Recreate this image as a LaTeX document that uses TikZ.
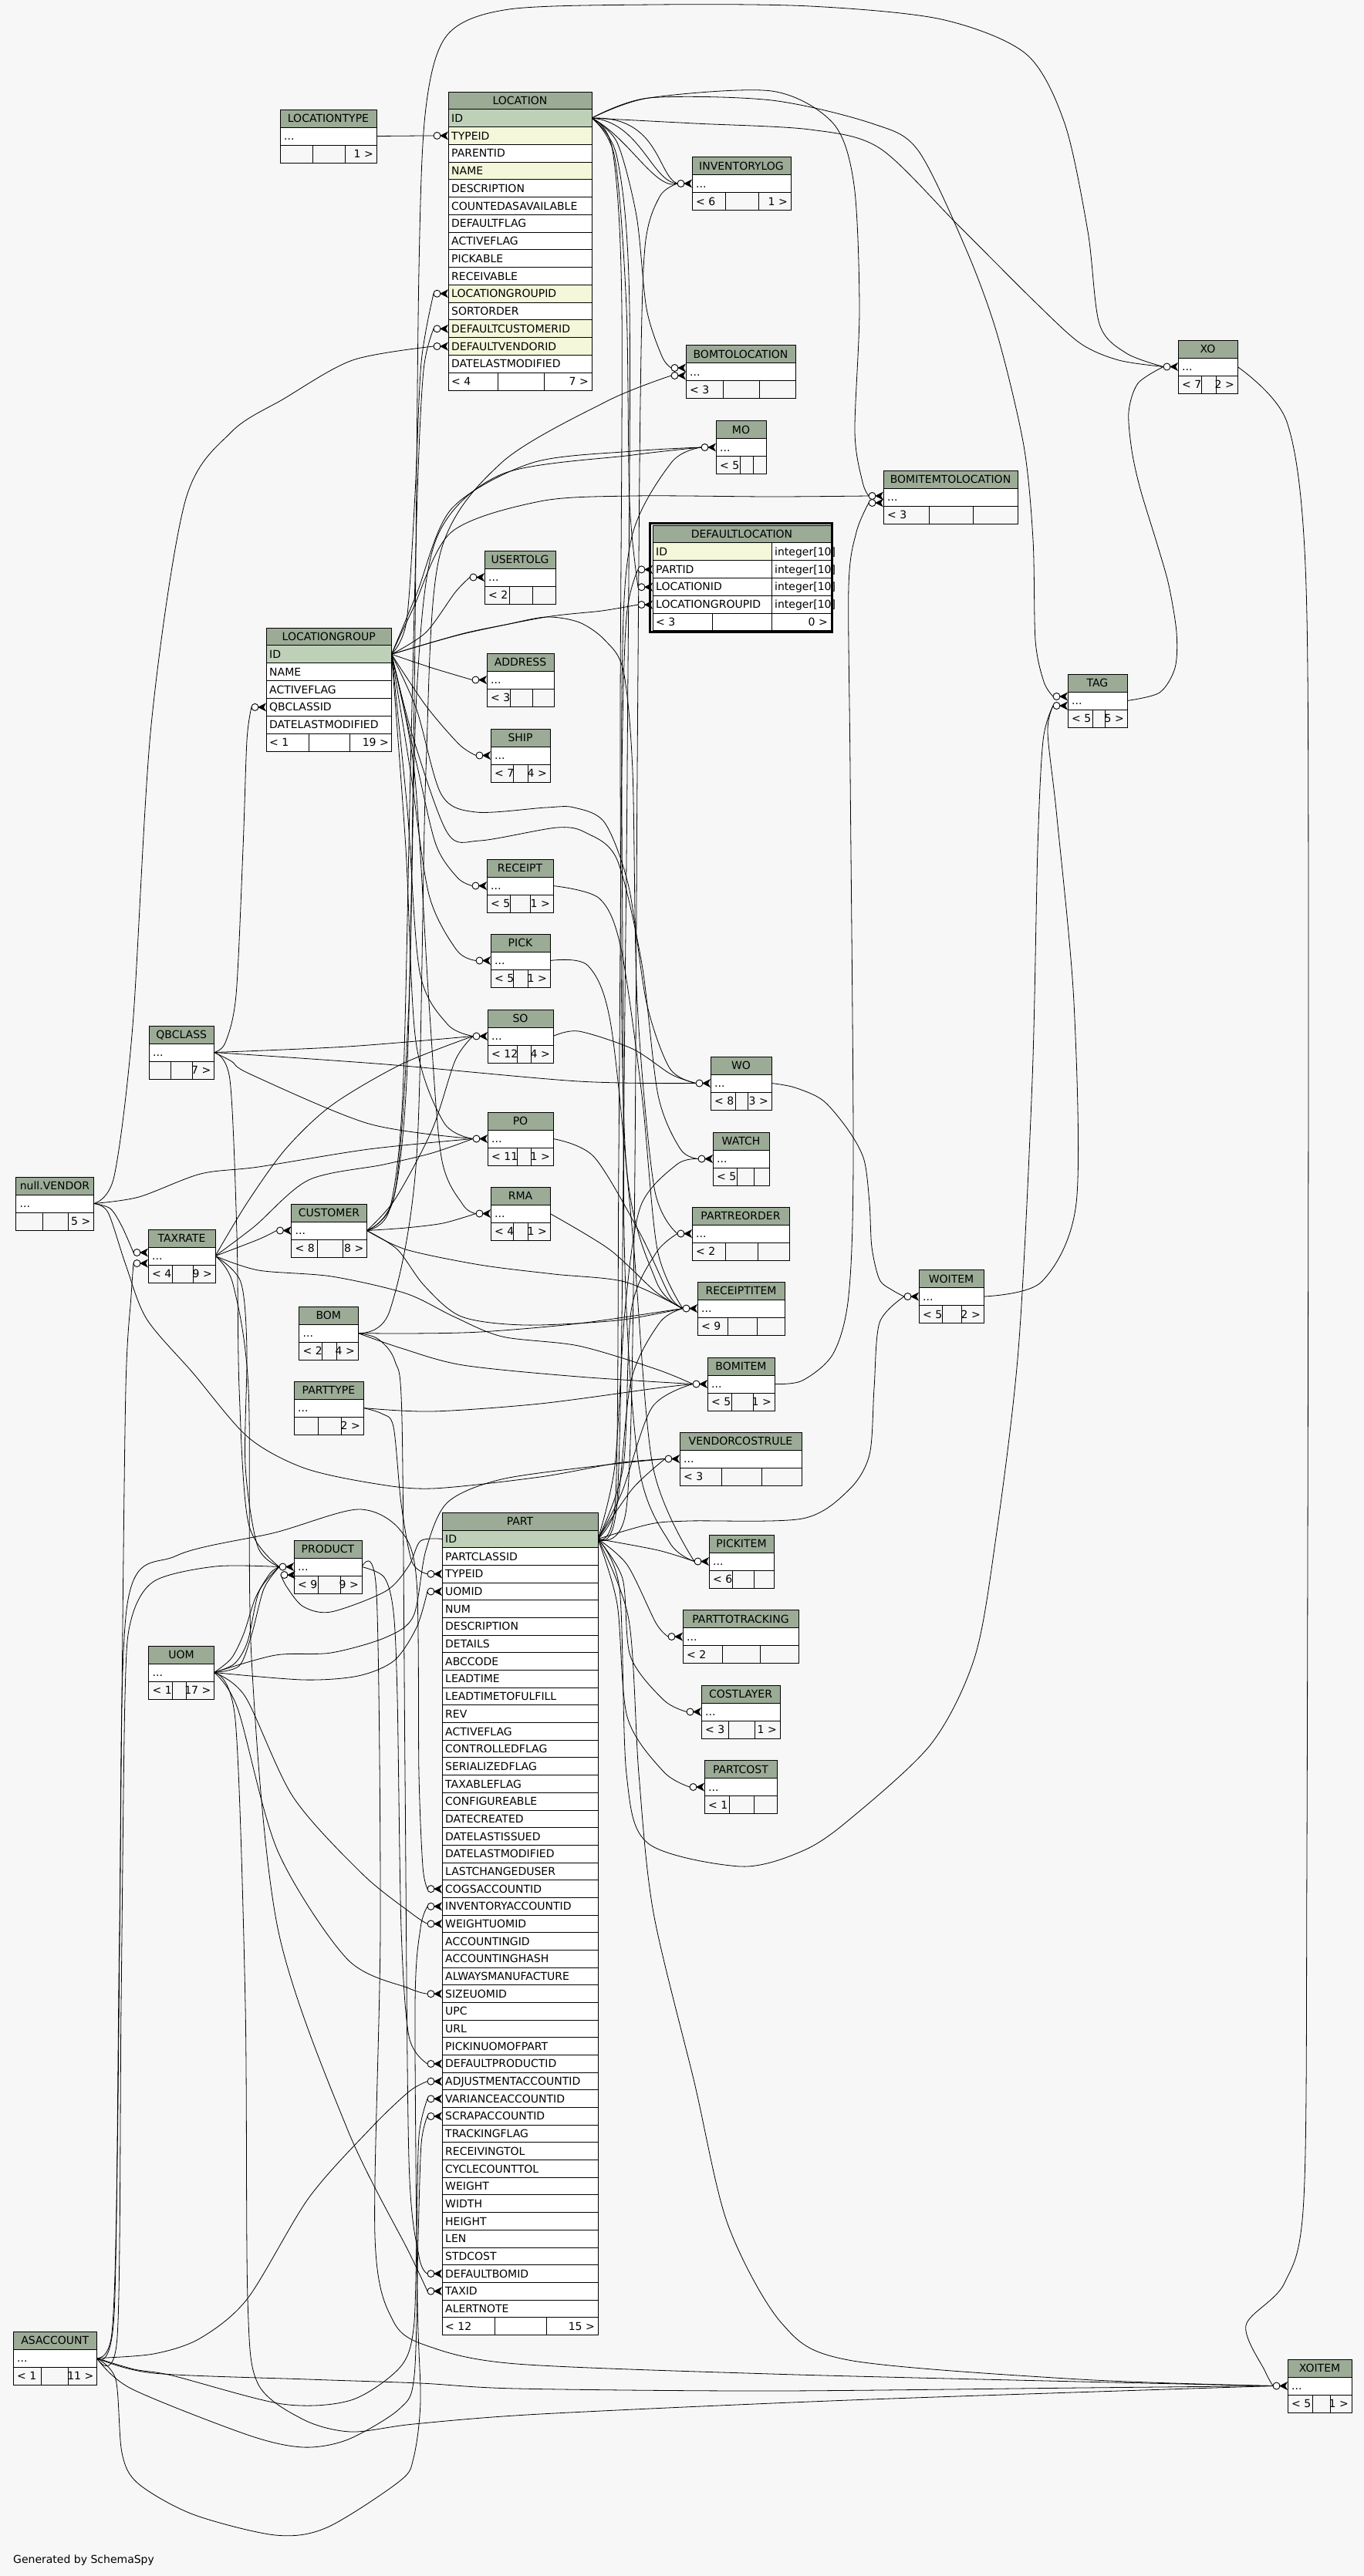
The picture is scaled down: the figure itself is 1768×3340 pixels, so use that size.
\documentclass[tikz,border=0pt]{standalone}
\usepackage{fontspec}
\setmainfont{DejaVu Sans}
\pgfdeclarelayer{back}
\pgfdeclarelayer{edges}
\pgfsetlayers{back,edges,main}
\definecolor{bg}{HTML}{F7F7F7}
\definecolor{hdr}{HTML}{9BAB96}
\definecolor{pk}{HTML}{BED1B8}
\definecolor{ix}{HTML}{F4F7DA}
\tikzset{
  tb/.style={line width=0.95pt},
  rel/.style={line width=0.8pt},
  tt/.style={inner sep=0pt,font=\fontsize{14}{16}\selectfont,text height=10.2pt,text depth=0pt},
  crowo/.pic={
    \draw[line width=0.9pt,fill=white] (-14.5,0) circle[radius=4.5];
    \fill (-11,0) -- (0,-5.5) -- (-3,0) -- (0,5.5) -- cycle;
  }
}
% compact table: name, x, y, w, title, div1, div2, left, right
\newcommand\ctab[9]{%
  \path[fill=hdr] (#2,#3) rectangle ++(#4,23);
  \path[fill=white] (#2,#3+23) rectangle ++(#4,23);
  \draw[tb] (#2,#3) rectangle ++(#4,69);
  \draw[tb] (#2,#3+23) -- ++(#4,0) (#2,#3+46) -- ++(#4,0) (#6,#3+46) -- (#6,#3+69) (#7,#3+46) -- (#7,#3+69);
  \node[tt] (#1) at (#2+#4/2,#3+11.5) {#5};
  \node[tt,anchor=west] at (#2+5,#3+34.5) {...};
  \node[tt,anchor=west] at (#2+5,#3+57.5) {#8};
  \node[tt,anchor=east] at (#2+#4-4,#3+57.5) {#9};
  \coordinate (#1-in) at (#2,#3+34.5);
  \coordinate (#1-out) at (#2+#4,#3+34.5);
  \coordinate (#1-e) at (#2-19,#3+34.5);
}
\begin{document}
\begin{tikzpicture}[x=1pt,y=-1pt]
\useasboundingbox (0,0) rectangle (1768,3340);
\begin{pgfonlayer}{back}
\fill[bg] (0,0) rectangle (1768,3340);
\end{pgfonlayer}

% ---------------- compact tables ----------------
\ctab{LOCATIONTYPE}{363}{142}{125}{LOCATIONTYPE}{405}{447}{}{1 >}
\ctab{INVENTORYLOG}{897}{203.5}{128}{INVENTORYLOG}{940}{983}{< 6}{1 >}
\ctab{BOMTOLOCATION}{889}{447.5}{142}{BOMTOLOCATION}{937}{984}{< 3}{}
\ctab{MO}{928}{545.5}{65}{MO}{959}{976}{< 5}{}
\ctab{BOMITEMTOLOCATION}{1145}{610}{174}{BOMITEMTOLOCATION}{1204}{1261}{< 3}{}
\ctab{XO}{1527}{441}{77}{XO}{1557}{1576}{< 7}{2 >}
\ctab{TAG}{1384}{874}{77}{TAG}{1416}{1432}{< 5}{5 >}
\ctab{USERTOLG}{628}{714}{92}{USERTOLG}{660}{690}{< 2}{}
\ctab{ADDRESS}{631}{847}{87}{ADDRESS}{661}{690}{< 3}{}
\ctab{SHIP}{636}{945}{77}{SHIP}{665}{684}{< 7}{4 >}
\ctab{RECEIPT}{631}{1114}{86}{RECEIPT}{661}{687}{< 5}{1 >}
\ctab{PICK}{636}{1211}{77}{PICK}{665}{684}{< 5}{1 >}
\ctab{SO}{632}{1309}{85}{SO}{670}{688}{< 12}{4 >}
\ctab{QBCLASS}{193}{1330}{84.5}{QBCLASS}{221.5}{249}{}{7 >}
\ctab{WO}{921}{1370}{79}{WO}{953}{969}{< 8}{3 >}
\ctab{PO}{632}{1442}{85}{PO}{670}{688}{< 11}{1 >}
\ctab{WATCH}{924}{1468}{73}{WATCH}{955}{977}{< 5}{}
\ctab{VENDOR}{20.5}{1526}{101}{null.VENDOR}{55.5}{88.5}{}{5 >}
\ctab{RMA}{636}{1539}{77}{RMA}{665.5}{684}{< 4}{1 >}
\ctab{CUSTOMER}{377.5}{1561}{98}{CUSTOMER}{411}{444}{< 8}{8 >}
\ctab{PARTREORDER}{897}{1565}{126}{PARTREORDER}{940}{982}{< 2}{}
\ctab{TAXRATE}{192}{1594}{87}{TAXRATE}{223}{250}{< 4}{9 >}
\ctab{RECEIPTITEM}{904}{1662}{113}{RECEIPTITEM}{943}{981}{< 9}{}
\ctab{WOITEM}{1191}{1646.5}{84}{WOITEM}{1221}{1246}{< 5}{2 >}
\ctab{BOM}{387.5}{1694}{76.5}{BOM}{417}{436}{< 2}{4 >}
\ctab{BOMITEM}{917}{1760}{87}{BOMITEM}{948}{976}{< 5}{1 >}
\ctab{PARTTYPE}{381}{1791}{90}{PARTTYPE}{412.5}{442}{}{2 >}
\ctab{VENDORCOSTRULE}{881}{1857}{158}{VENDORCOSTRULE}{935}{987}{< 3}{}
\ctab{PICKITEM}{919}{1990}{84}{PICKITEM}{949}{977}{< 6}{}
\ctab{PRODUCT}{381}{1997}{88}{PRODUCT}{412.5}{441}{< 9}{9 >}
\ctab{PARTTOTRACKING}{885}{2087.5}{150}{PARTTOTRACKING}{936}{985}{< 2}{}
\ctab{UOM}{192.5}{2134}{85}{UOM}{223}{241}{< 1}{17 >}
\ctab{COSTLAYER}{909}{2185}{102}{COSTLAYER}{944}{978}{< 3}{1 >}
\ctab{PARTCOST}{913}{2282.5}{94}{PARTCOST}{945}{977}{< 1}{}
\ctab{ASACCOUNT}{17}{3023}{108.5}{ASACCOUNT}{53}{88}{< 1}{11 >}
\ctab{XOITEM}{1669}{3059}{83}{XOITEM}{1701}{1724}{< 5}{1 >}

% ---------------- LOCATION ----------------
\path[fill=hdr] (581,119) rectangle (767,141.76);
\node[tt] (LOCATION) at (674,130.38) {LOCATION};
\foreach \rn/\rc [count=\i] in {ID/pk,TYPEID/ix,PARENTID/white,NAME/ix,DESCRIPTION/white,COUNTEDASAVAILABLE/white,DEFAULTFLAG/white,ACTIVEFLAG/white,PICKABLE/white,RECEIVABLE/white,LOCATIONGROUPID/ix,SORTORDER/white,DEFAULTCUSTOMERID/ix,DEFAULTVENDORID/ix,DATELASTMODIFIED/white}{
  \path[fill=\rc] (581,{119+22.76*\i}) rectangle (767,{119+22.76*(\i+1)});
  \draw[tb] (581,{119+22.76*\i}) -- (767,{119+22.76*\i});
  \node[tt,anchor=west] at (585,{119+22.76*(\i+0.5)}) {\rn};
}
\path[fill=white] (581,483.16) rectangle (767,506);
\draw[tb] (581,483.16) -- (767,483.16) (645,483.16) -- (645,506) (705,483.16) -- (705,506);
\node[tt,anchor=west] at (585,494.6) {< 4};
\node[tt,anchor=east] at (763,494.6) {7 >};
\draw[tb] (581,119) rectangle (767,506);

% ---------------- LOCATIONGROUP ----------------
\path[fill=hdr] (345,814) rectangle (507.5,836.86);
\node[tt] (LOCATIONGROUP) at (426.25,825.4) {LOCATIONGROUP};
\foreach \rn/\rc [count=\i] in {ID/pk,NAME/white,ACTIVEFLAG/white,QBCLASSID/white,DATELASTMODIFIED/white}{
  \path[fill=\rc] (345,{814+22.86*\i}) rectangle (507.5,{814+22.86*(\i+1)});
  \draw[tb] (345,{814+22.86*\i}) -- (507.5,{814+22.86*\i});
  \node[tt,anchor=west] at (349,{814+22.86*(\i+0.5)}) {\rn};
}
\path[fill=white] (345,951.16) rectangle (507.5,974);
\draw[tb] (345,951.16) -- (507.5,951.16) (400,951.16) -- (400,974) (453,951.16) -- (453,974);
\node[tt,anchor=west] at (349,962.6) {< 1};
\node[tt,anchor=east] at (504,962.6) {19 >};
\draw[tb] (345,814) rectangle (507.5,974);

% ---------------- DEFAULTLOCATION ----------------
\path[fill=hdr] (846,681) rectangle (1077,703.8);
\node[tt] (DEFAULTLOCATION) at (961.5,692.4) {DEFAULTLOCATION};
\foreach \rn/\rc [count=\i] in {ID/ix,PARTID/white,LOCATIONID/white,LOCATIONGROUPID/white}{
  \path[fill=\rc] (846,{681+22.8*\i}) rectangle (1000,{681+22.8*(\i+1)});
  \path[fill=white] (1000,{681+22.8*\i}) rectangle (1077,{681+22.8*(\i+1)});
  \draw[tb] (846,{681+22.8*\i}) -- (1077,{681+22.8*\i});
  \node[tt,anchor=west] at (850,{681+22.8*(\i+0.5)}) {\rn};
  \node[tt,anchor=west] at (1004,{681+22.8*(\i+0.5)}) {integer[10]};
}
\path[fill=white] (846,795) rectangle (1077,817.8);
\draw[tb] (846,795) -- (1077,795) (1000,703.8) -- (1000,817.8) (923,795) -- (923,817.8);
\node[tt,anchor=west] at (850,806.4) {< 3};
\node[tt,anchor=east] at (1073,806.4) {0 >};
\draw[tb] (846,681) rectangle (1077,817.8);
\draw[line width=3pt] (842.6,678.4) rectangle (1078.6,819.8);

% ---------------- PART ----------------
\path[fill=hdr] (573,1961.4) rectangle (775,1984.08);
\node[tt] (PART) at (674,1972.7) {PART};
\foreach \rn/\rc [count=\i] in {ID/pk,PARTCLASSID/white,TYPEID/white,UOMID/white,NUM/white,DESCRIPTION/white,DETAILS/white,ABCCODE/white,LEADTIME/white,LEADTIMETOFULFILL/white,REV/white,ACTIVEFLAG/white,CONTROLLEDFLAG/white,SERIALIZEDFLAG/white,TAXABLEFLAG/white,CONFIGUREABLE/white,DATECREATED/white,DATELASTISSUED/white,DATELASTMODIFIED/white,LASTCHANGEDUSER/white,COGSACCOUNTID/white,INVENTORYACCOUNTID/white,WEIGHTUOMID/white,ACCOUNTINGID/white,ACCOUNTINGHASH/white,ALWAYSMANUFACTURE/white,SIZEUOMID/white,UPC/white,URL/white,PICKINUOMOFPART/white,DEFAULTPRODUCTID/white,ADJUSTMENTACCOUNTID/white,VARIANCEACCOUNTID/white,SCRAPACCOUNTID/white,TRACKINGFLAG/white,RECEIVINGTOL/white,CYCLECOUNTTOL/white,WEIGHT/white,WIDTH/white,HEIGHT/white,LEN/white,STDCOST/white,DEFAULTBOMID/white,TAXID/white,ALERTNOTE/white}{
  \path[fill=\rc] (573,{1961.4+22.68*\i}) rectangle (775,{1961.4+22.68*(\i+1)});
  \draw[tb] (573,{1961.4+22.68*\i}) -- (775,{1961.4+22.68*\i});
  \node[tt,anchor=west] at (577,{1961.4+22.68*(\i+0.5)}) {\rn};
}
\path[fill=white] (573,3004.68) rectangle (775,3027.36);
\draw[tb] (573,3004.68) -- (775,3004.68) (641,3004.68) -- (641,3027.36) (708,3004.68) -- (708,3027.36);
\node[tt,anchor=west] at (577,3016) {< 12};
\node[tt,anchor=east] at (771,3016) {15 >};
\draw[tb] (573,1961.4) rectangle (775,3027.36);

\node[tt,anchor=west] (gen) at (17,3318) {Generated by SchemaSpy};

% ---------------- anchor coordinates ----------------
\coordinate (L-id) at (767,153.1);
\coordinate (L-type-e) at (562,175.9);
\coordinate (L-lg-e) at (562,380.7);
\coordinate (L-cust-e) at (562,426.3);
\coordinate (L-vend-e) at (562,449);
\coordinate (LG-id) at (507.5,848.3);
\coordinate (LG-qb-e) at (326,916.9);
\coordinate (P-id) at (775,1995.4);
\coordinate (P-idw) at (573,1995.4);
\coordinate (P-type-e) at (554,2040.8);
\coordinate (P-uom-e) at (554,2063.5);
\coordinate (P-cogs-e) at (554,2449.1);
\coordinate (P-inv-e) at (554,2471.8);
\coordinate (P-wuom-e) at (554,2494.4);
\coordinate (P-suom-e) at (554,2585.2);
\coordinate (P-dprod-e) at (554,2675.9);
\coordinate (P-adj-e) at (554,2698.6);
\coordinate (P-var-e) at (554,2721.3);
\coordinate (P-scrap-e) at (554,2743.9);
\coordinate (P-bom-e) at (554,2948.0);
\coordinate (P-tax-e) at (554,2970.7);
\coordinate (DL-part-e) at (827,738.4);
\coordinate (DL-loc-e) at (827,761.2);
\coordinate (DL-lg-e) at (827,784);
\coordinate (BTL-e1) at (870,477);
\coordinate (BTL-e2) at (870,487);
\coordinate (BITL-e1) at (1126,643);
\coordinate (BITL-e2) at (1126,652);
\coordinate (TAG-e1) at (1365,903);
\coordinate (TAG-e2) at (1365,915);
\coordinate (TAX-e1) at (173,1624);
\coordinate (TAX-e2) at (173,1638);
\coordinate (PROD-e2) at (364,2042);

% ---------------- relationships ----------------
\begin{pgfonlayer}{edges}
\draw[rel] (LOCATIONTYPE-out) -- (L-type-e);
\draw[rel] plot[smooth] coordinates {(LG-id) (527,805) (538,640) (546,470) (L-lg-e)};
\draw[rel] plot[smooth] coordinates {(CUSTOMER-out) (505,1568) (522,1420) (532,1000) (541,640) (549,480) (L-cust-e)};
\draw[rel] plot[smooth] coordinates {(VENDOR-out) (148,1525) (172,1330) (196,940) (240,650) (300,560) (368,517) (457,467) (L-vend-e)};
\draw[rel] (L-id) .. controls (830,158) and (845,236) .. (INVENTORYLOG-e);
\draw[rel] (L-id) .. controls (815,178) and (850,248) .. (INVENTORYLOG-e);
\draw[rel] (L-id) .. controls (855,150) and (852,228) .. (INVENTORYLOG-e);
\draw[rel] plot[smooth] coordinates {(P-id) (812,1955) (822,1600) (826,1000) (830,520) (836,320) (855,255) (INVENTORYLOG-e)};
\draw[rel] plot[smooth] coordinates {(L-id) (800,185) (825,280) (838,400) (858,462) (BTL-e1)};
\draw[rel] plot[smooth] coordinates {(BOM-out) (505,1700) (540,1500) (552,1000) (570,720) (650,600) (787,520) (BTL-e2)};
\draw[rel] plot[smooth] coordinates {(LG-id) (540,770) (585,660) (690,600) (820,585) (MO-e)};
\draw[rel] plot[smooth] coordinates {(CUSTOMER-out) (512,1545) (530,1300) (540,900) (565,700) (650,615) (820,590) (MO-e)};
\draw[rel] plot[smooth] coordinates {(P-id) (800,1945) (808,1500) (806,900) (818,700) (870,600) (MO-e)};
\draw[rel] plot[smooth] coordinates {(L-id) (841,127) (1000,118) (1080,160) (1107,240) (1114,400) (1108,560) (1118,625) (BITL-e1)};
\draw[rel] plot[smooth] coordinates {(LG-id) (535,790) (585,690) (700,650) (820,643) (1000,644) (BITL-e1)};
\draw[rel] plot[smooth] coordinates {(BOMITEM-out) (1040,1790) (1080,1755) (1100,1680) (1106,1500) (1102,1000) (1100,761) (1110,690) (BITL-e2)};
\draw[rel] plot[smooth] coordinates {(P-id) (798,1940) (802,1500) (806,1000) (812,800) (DL-part-e)};
\draw[rel] plot[smooth] coordinates {(L-id) (797,205) (812,400) (816,650) (DL-loc-e)};
\draw[rel] plot[smooth] coordinates {(LG-id) (600,822) (708,800) (780,792) (DL-lg-e)};
\draw[rel] plot[smooth] coordinates {(L-id) (900,160) (1050,168) (1140,192) (1240,290) (1340,390) (1400,445) (1450,467) (XO-e)};
\draw[rel] plot[smooth] coordinates {(CUSTOMER-out) (510,1555) (528,1380) (537,900) (543,350) (552,140) (580,45) (660,12) (850,6) (1050,8) (1220,25) (1330,70) (1380,160) (1410,300) (1425,420) (1460,458) (XO-e)};
\draw[rel] plot[smooth] coordinates {(TAG-out) (1503,898) (1523,866) (1525,820) (1515,759) (1500,706) (1478,634) (1467,584) (1463,534) (1475,497) (XO-e)};
\draw[rel] plot[smooth] coordinates {(L-id) (841,127) (1000,130) (1130,160) (1190,195) (1253,325) (1293,435) (1327,578) (1339,700) (1342,830) (1353,884) (TAG-e1)};
\draw[rel] plot[smooth] coordinates {(P-id) (803,2060) (812,2300) (840,2390) (960,2420) (1040,2400) (1100,2360) (1207,2261) (1263,2150) (1290,2000) (1320,1750) (1338,1400) (1345,1100) (1352,960) (TAG-e2)};
\draw[rel] plot[smooth] coordinates {(WOITEM-out) (1350,1662) (1395,1560) (1392,1300) (1370,1060) (1358,950) (TAG-e2)};
\draw[rel] plot[smooth] coordinates {(LG-id) (552,820) (590,768) (USERTOLG-e)};
\draw[rel] plot[smooth] coordinates {(LG-id) (560,866) (ADDRESS-e)};
\draw[rel] plot[smooth] coordinates {(LG-id) (552,915) (595,965) (SHIP-e)};
\draw[rel] plot[smooth] coordinates {(LG-id) (540,990) (565,1095) (593,1138) (RECEIPT-e)};
\draw[rel] plot[smooth] coordinates {(LG-id) (532,1000) (556,1160) (592,1232) (PICK-e)};
\draw[rel] plot[smooth] coordinates {(LG-id) (528,1050) (544,1260) (580,1328) (SO-e)};
\draw[rel] plot[smooth] coordinates {(LG-id) (526,1100) (539,1350) (575,1455) (PO-e)};
\draw[rel] plot[smooth] coordinates {(LG-id) (537,1000) (556,1300) (572,1500) (600,1562) (RMA-e)};
\draw[rel] plot[smooth] coordinates {(LG-id) (540,920) (572,1030) (617,1053) (708,1047) (744,1047) (784,1067) (815,1150) (838,1300) (868,1385) (WO-e)};
\draw[rel] plot[smooth] coordinates {(LG-id) (535,955) (580,1080) (622,1090) (722,1073) (760,1080) (800,1115) (832,1250) (853,1420) (882,1490) (WATCH-e)};
\draw[rel] plot[smooth] coordinates {(LG-id) (598,822) (655,810) (708,800) (751,807) (784,830) (808,870) (820,1000) (826,1300) (848,1540) (PARTREORDER-e)};
\draw[rel] plot[smooth] coordinates {(QBCLASS-out) (292,1352) (306,1290) (315,1100) (320,960) (LG-qb-e)};
\draw[rel] plot[smooth] coordinates {(QBCLASS-out) (450,1357) (SO-e)};
\draw[rel] plot[smooth] coordinates {(QBCLASS-out) (500,1380) (750,1402) (WO-e)};
\draw[rel] plot[smooth] coordinates {(QBCLASS-out) (300,1376) (325,1393) (478,1457) (PO-e)};
\draw[rel] plot[smooth] coordinates {(QBCLASS-out) (298,1400) (307,1600) (310,1800) (322,1975) (PRODUCT-e)};
\draw[rel] plot[smooth] coordinates {(VENDOR-out) (180,1552) (260,1522) (335,1513) (478,1490) (PO-e)};
\draw[rel] plot[smooth] coordinates {(VENDOR-out) (143,1567) (158,1590) (TAX-e1)};
\draw[rel] plot[smooth] coordinates {(VENDOR-out) (140,1572) (163,1640) (190,1710) (250,1780) (321,1863) (393,1903) (482,1923) (560,1930) (700,1915) (800,1897) (VENDORCOSTRULE-e)};
\draw[rel] plot[smooth] coordinates {(TAXRATE-out) (335,1607) (CUSTOMER-e)};
\draw[rel] plot[smooth] coordinates {(TAXRATE-out) (312,1662) (320,1750) (318,1900) (334,2005) (PRODUCT-e)};
\draw[rel] plot[smooth] coordinates {(TAXRATE-out) (320,1560) (370,1490) (430,1433) (520,1380) (SO-e)};
\draw[rel] plot[smooth] coordinates {(TAXRATE-out) (330,1590) (400,1530) (497,1510) (560,1495) (PO-e)};
\draw[rel] plot[smooth] coordinates {(TAXRATE-out) (335,1647) (430,1655) (526,1677) (588,1707) (651,1733) (750,1745) (850,1775) (BOMITEM-e)};
\draw[rel] plot[smooth] coordinates {(TAXRATE-out) (302,1665) (322,1800) (326,2150) (360,2500) (450,2760) (530,2920) (P-tax-e)};
\draw[rel] plot[smooth] coordinates {(CUSTOMER-out) (512,1555) (560,1465) (590,1375) (SO-e)};
\draw[rel] plot[smooth] coordinates {(CUSTOMER-out) (526,1592) (574,1586) (RMA-e)};
\draw[rel] plot[smooth] coordinates {(CUSTOMER-out) (526,1620) (622,1640) (718,1652) (810,1662) (RECEIPTITEM-e)};
\draw[rel] plot[smooth] coordinates {(CUSTOMER-out) (515,1620) (550,1667) (598,1707) (680,1718) (800,1712) (RECEIPTITEM-e)};
\draw[rel] plot[smooth] coordinates {(BOM-out) (526,1729) (622,1727) (750,1716) (RECEIPTITEM-e)};
\draw[rel] plot[smooth] coordinates {(BOM-out) (520,1748) (600,1770) (750,1785) (BOMITEM-e)};
\draw[rel] plot[smooth] coordinates {(BOM-out) (490,1736) (512,1765) (521,1840) (525,2300) (530,2800) (543,2925) (P-bom-e)};
\draw[rel] plot[smooth] coordinates {(PARTTYPE-out) (495,1833) (510,1850) (520,1950) (534,2025) (P-type-e)};
\draw[rel] plot[smooth] coordinates {(PARTTYPE-out) (560,1830) (700,1820) (850,1800) (BOMITEM-e)};
\draw[rel] plot[smooth] coordinates {(PRODUCT-out) (498,2045) (510,2090) (515,2200) (520,2500) (530,2640) (P-dprod-e)};
\draw[rel] plot[smooth] coordinates {(PRODUCT-out) (488,2065) (493,2500) (486,2900) (510,3010) (558,3043) (670,3065) (1000,3078) (1400,3088) (XOITEM-e)};
\draw[rel] plot[smooth] coordinates {(P-idw) (545,1998) (530,2030) (500,2063) (429,2090) (393,2083) (372,2058) (PROD-e2)};
\draw[rel] plot[smooth] coordinates {(UOM-out) (304,2157) (321,2128) (336,2063) (PRODUCT-e)};
\draw[rel] plot[smooth] coordinates {(UOM-out) (300,2150) (316,2118) (331,2072) (350,2040) (PRODUCT-e)};
\draw[rel] plot[smooth] coordinates {(UOM-out) (310,2160) (326,2120) (342,2060) (PRODUCT-e)};
\draw[rel] plot[smooth] coordinates {(UOM-out) (393,2178) (464,2173) (511,2153) (540,2110) (P-uom-e)};
\draw[rel] plot[smooth] coordinates {(UOM-out) (318,2200) (380,2330) (470,2430) (535,2482) (P-wuom-e)};
\draw[rel] plot[smooth] coordinates {(UOM-out) (308,2215) (360,2400) (450,2540) (530,2578) (P-suom-e)};
\draw[rel] plot[smooth] coordinates {(UOM-out) (305,2230) (318,2600) (321,2980) (334,3090) (393,3137) (455,3153) (536,3143) (700,3130) (1100,3112) (XOITEM-e)};
\draw[rel] plot[smooth] coordinates {(UOM-out) (357,2146) (429,2143) (500,2123) (536,2095) (552,2010) (580,1948) (650,1918) (780,1900) (VENDORCOSTRULE-e)};
\draw[rel] plot[smooth] coordinates {(ASACCOUNT-out) (145,3025) (152,2800) (158,2200) (163,1800) (170,1680) (TAX-e2)};
\draw[rel] plot[smooth] coordinates {(ASACCOUNT-out) (152,3030) (157,2600) (162,2200) (170,2100) (200,2050) (279,2031) (PRODUCT-e)};
\draw[rel] plot[smooth] coordinates {(ASACCOUNT-out) (148,3000) (155,2500) (165,2080) (229,2017) (357,1987) (464,1957) (518,1983) (540,2050) (543,2300) (548,2420) (P-cogs-e)};
\draw[rel] plot[smooth] coordinates {(ASACCOUNT-out) (150,3085) (158,3180) (179,3220) (250,3260) (357,3287) (424,3277) (518,3217) (536,3187) (545,3113) (541,2980) (538,2600) (545,2500) (P-inv-e)};
\draw[rel] plot[smooth] coordinates {(ASACCOUNT-out) (199,3052) (259,3032) (321,2980) (400,2850) (480,2760) (530,2712) (P-adj-e)};
\draw[rel] plot[smooth] coordinates {(ASACCOUNT-out) (174,3072) (223,3080) (366,3117) (455,3112) (518,3070) (536,3020) (540,2900) (543,2770) (P-var-e)};
\draw[rel] plot[smooth] coordinates {(ASACCOUNT-out) (170,3097) (321,3157) (393,3173) (451,3163) (518,3123) (537,3080) (542,2900) (546,2780) (P-scrap-e)};
\draw[rel] plot[smooth] coordinates {(ASACCOUNT-out) (199,3077) (400,3085) (545,3090) (670,3097) (1000,3100) (1400,3096) (XOITEM-e)};
\draw[rel] plot[smooth] coordinates {(P-id) (853,2010) (PICKITEM-e)};
\draw[rel] plot[smooth] coordinates {(P-id) (813,2029) (850,2104) (PARTTOTRACKING-e)};
\draw[rel] plot[smooth] coordinates {(P-id) (807,2047) (817,2147) (860,2204) (COSTLAYER-e)};
\draw[rel] plot[smooth] coordinates {(P-id) (800,2080) (813,2226) (860,2297) (PARTCOST-e)};
\draw[rel] plot[smooth] coordinates {(P-id) (843,1976) (893,1972) (1040,1969) (1100,1932) (1127,1886) (1133,1800) (1140,1715) (WOITEM-e)};
\draw[rel] plot[smooth] coordinates {(P-id) (815,2100) (828,2300) (847,2480) (900,2700) (943,2883) (1013,3012) (1100,3060) (1400,3085) (XOITEM-e)};
\draw[rel] plot[smooth] coordinates {(P-id) (800,1950) (818,1790) (855,1715) (RECEIPTITEM-e)};
\draw[rel] plot[smooth] coordinates {(P-id) (806,1935) (845,1825) (BOMITEM-e)};
\draw[rel] plot[smooth] coordinates {(P-id) (820,1930) (VENDORCOSTRULE-e)};
\draw[rel] plot[smooth] coordinates {(P-id) (808,1900) (818,1700) (850,1625) (PARTREORDER-e)};
\draw[rel] plot[smooth] coordinates {(P-id) (797,1900) (810,1700) (830,1565) (877,1510) (WATCH-e)};
\draw[rel] plot[smooth] coordinates {(L-id) (800,205) (816,400) (813,1000) (809,1600) (828,1900) (868,2000) (PICKITEM-e)};
\draw[rel] plot[smooth] coordinates {(L-id) (794,195) (806,400) (804,1000) (811,1500) (850,1660) (RECEIPTITEM-e)};
\draw[rel] plot[smooth] coordinates {(RECEIPT-out) (777,1165) (805,1230) (832,1420) (852,1620) (RECEIPTITEM-e)};
\draw[rel] plot[smooth] coordinates {(PICK-out) (762,1252) (792,1330) (820,1600) (846,1900) (PICKITEM-e)};
\draw[rel] plot[smooth] coordinates {(SO-out) (750,1337) (820,1360) (870,1393) (WO-e)};
\draw[rel] plot[smooth] coordinates {(PO-out) (770,1500) (830,1600) (868,1680) (RECEIPTITEM-e)};
\draw[rel] plot[smooth] coordinates {(RMA-out) (790,1620) (850,1675) (RECEIPTITEM-e)};
\draw[rel] plot[smooth] coordinates {(WO-out) (1030,1410) (1067,1427) (1100,1466) (1120,1504) (1127,1560) (1130,1617) (1140,1659) (1157,1673) (WOITEM-e)};
\draw[rel] plot[smooth] coordinates {(XO-out) (1668,547) (1692,734) (1696,1200) (1694,2400) (1690,2850) (1665,2960) (1615,3015) (1640,3075) (XOITEM-e)};
\end{pgfonlayer}

% ---------------- crow's-foot markers ----------------
\foreach \mx/\my in {581/175.9,581/380.7,581/426.3,581/449,897/238,889/477,889/487,928/580,1145/643,1145/652,846/738.4,846/761.2,846/784,1527/475.5,1384/903,1384/915,628/748.5,631/881.5,636/979.5,631/1148.5,636/1245.5,632/1343.5,921/1404.5,632/1476.5,924/1502.5,636/1573.5,377.5/1595.5,897/1599.5,192/1624,192/1638,904/1696.5,1191/1681,917/1794.5,881/1891.5,919/2024.5,381/2031.5,383/2042,885/2122,909/2219.5,913/2317,345/916.9,573/2040.8,573/2063.5,573/2449.1,573/2471.8,573/2494.4,573/2585.2,573/2675.9,573/2698.6,573/2721.3,573/2743.9,573/2948.0,573/2970.7,1669/3093.5}{
  \pic at (\mx,\my) {crowo};
}
\end{tikzpicture}
\end{document}
